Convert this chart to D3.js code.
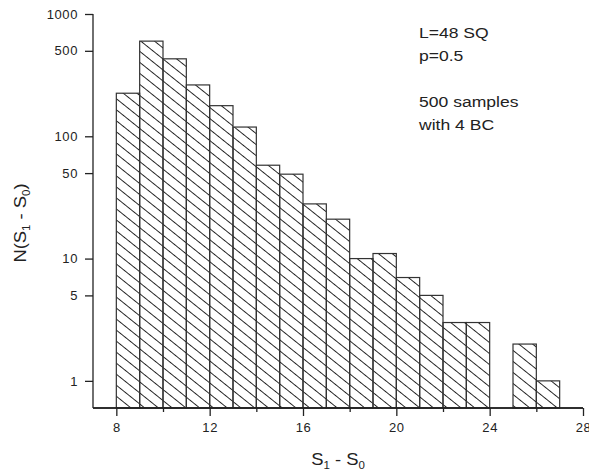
<!DOCTYPE html>
<html>
<head>
<meta charset="utf-8">
<script src="https://cdn.jsdelivr.net/npm/d3@7"></script>
<style>
  html, body { margin: 0; padding: 0; background: #fff; }
  svg { display: block; }
  text { font-family: "Liberation Sans", Arial, sans-serif; fill: #222; }
</style>
</head>
<body>
<svg id="chart" width="589" height="472"></svg>
<script>
// Data
const binStarts = [8, 9, 10, 11, 12, 13, 14, 15, 16, 17, 18, 19, 20, 21, 22, 23, 25, 26];
const counts    = [225, 600, 430, 263, 178, 119, 58, 49, 28, 21, 10, 11, 7, 5, 3, 3, 2, 1];
const xMajorTicks = [8, 12, 16, 20, 24, 28];
const xMinorTicks = [10, 14, 18, 22, 26];
const yTicks = [1, 5, 10, 50, 100, 500, 1000];
const notes = ["L=48 SQ", "p=0.5", "", "500 samples", "with 4 BC"];

const svg = d3.select("#chart");
const mLeft = 93, mRight = 583, mTop = 14, mBottom = 408;

const x = d3.scaleLinear().domain([7, 28]).range([mLeft, mRight]);
const y = d3.scaleLog().domain([0.6, 1000]).range([mBottom, mTop]);

// hatch pattern
const defs = svg.append("defs");
const pat = defs.append("pattern")
  .attr("id", "hatch")
  .attr("patternUnits", "userSpaceOnUse")
  .attr("width", 20).attr("height", 8.6)
  .attr("patternTransform", "rotate(38.7)");
pat.append("line")
  .attr("x1", 0).attr("x2", 20).attr("y1", 4.3).attr("y2", 4.3)
  .attr("stroke", "#222").attr("stroke-width", 1);

// bars
svg.append("g").selectAll("rect")
  .data(binStarts.map((s, i) => ({ s, v: counts[i] })))
  .join("rect")
  .attr("x", d => x(d.s))
  .attr("width", d => x(d.s + 1) - x(d.s))
  .attr("y", d => y(d.v))
  .attr("height", d => mBottom - y(d.v))
  .attr("fill", "url(#hatch)")
  .attr("stroke", "#333")
  .attr("stroke-width", 1.2);

// x axis
const gx = svg.append("g").attr("transform", `translate(0,${mBottom})`);
gx.call(d3.axisBottom(x).tickValues(xMajorTicks).tickFormat(d3.format("d")).tickSize(8).tickSizeOuter(0).tickPadding(7));
gx.append("g").call(d3.axisBottom(x).tickValues(xMinorTicks).tickFormat("").tickSize(4).tickSizeOuter(0));
gx.selectAll("path.domain").attr("d", `M${mLeft},0H${mRight}`);
gx.selectAll(".domain, line").attr("stroke", "#222").attr("stroke-width", 1.3);
gx.selectAll("text").style("font-size", "13px").style("letter-spacing", "0.6px").attr("fill", "#222")
  .style("font-family", '"Liberation Sans", Arial, sans-serif');

// y axis
const gy = svg.append("g").attr("transform", `translate(${mLeft},0)`);
gy.call(d3.axisLeft(y).tickValues(yTicks).tickFormat(d3.format("d")).tickSize(8).tickSizeOuter(0).tickPadding(7));
gy.selectAll("path.domain").attr("d", `M0,${mTop}V${mBottom}`);
gy.selectAll(".domain, line").attr("stroke", "#222").attr("stroke-width", 1.3);
gy.selectAll("text").style("font-size", "13px").style("letter-spacing", "0.6px").attr("fill", "#222")
  .style("font-family", '"Liberation Sans", Arial, sans-serif');

// x title
const xt = svg.append("text")
  .attr("transform", `translate(${(mLeft + mRight) / 2},465) scale(1.15,1)`)
  .attr("text-anchor", "middle")
  .style("font-size", "16px");
xt.append("tspan").text("S");
xt.append("tspan").attr("dy", 4).style("font-size", "10px").text("1");
xt.append("tspan").attr("dy", -4).text(" - S");
xt.append("tspan").attr("dy", 4).style("font-size", "10px").text("0");

// y title
const yt = svg.append("text")
  .attr("transform", "translate(26,223) rotate(-90) scale(1.15,1)")
  .attr("text-anchor", "middle")
  .style("font-size", "16px");
yt.append("tspan").text("N(S");
yt.append("tspan").attr("dy", 4).style("font-size", "10px").text("1");
yt.append("tspan").attr("dy", -4).text(" - S");
yt.append("tspan").attr("dy", 4).style("font-size", "10px").text("0");
yt.append("tspan").attr("dy", -4).text(")");

// notes
svg.append("g").selectAll("text")
  .data(notes)
  .join("text")
  .attr("transform", (d, i) => `translate(419,${38 + i * 23}) scale(1.17,1)`)
  .style("font-size", "15px")
  .text(d => d);
</script>
</body>
</html>
